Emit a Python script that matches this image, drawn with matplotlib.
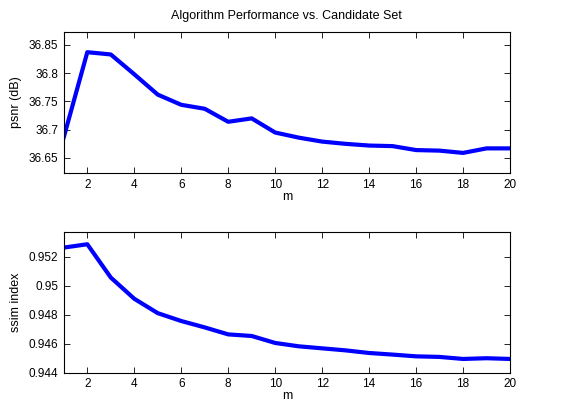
import matplotlib
matplotlib.use("Agg")
import matplotlib.pyplot as plt

# candidate set size
m = list(range(1, 21))

psnr = [36.687, 36.837, 36.833, 36.798, 36.762, 36.744, 36.737, 36.714, 36.720, 36.695,
        36.686, 36.679, 36.675, 36.672, 36.671, 36.664, 36.663, 36.659, 36.667, 36.667]

ssim = [0.95262, 0.95285, 0.95056, 0.94910, 0.94811, 0.94757, 0.94713, 0.94665, 0.94654, 0.94606,
        0.94583, 0.94569, 0.94555, 0.94537, 0.94526, 0.94514, 0.94510, 0.94496, 0.94501, 0.94496]

psnr_ticks = [36.65, 36.7, 36.75, 36.8, 36.85]
psnr_ticklabels = ["36.65", "36.7", "36.75", "36.8", "36.85"]
ssim_ticks = [0.944, 0.946, 0.948, 0.95, 0.952]
ssim_ticklabels = ["0.944", "0.946", "0.948", "0.95", "0.952"]
m_ticks = list(range(2, 21, 2))

plt.rcParams["font.family"] = ["Liberation Sans", "DejaVu Sans"]
plt.rcParams["font.size"] = 9

fig = plt.figure(figsize=(5.75, 4.08), dpi=100)
ax1 = fig.add_axes([0.111, 0.576, 0.776, 0.346])
ax2 = fig.add_axes([0.111, 0.086, 0.776, 0.346])

def style(ax):
    ax.tick_params(direction="in", top=True, right=True, length=4, width=0.6, labelsize=8.5, pad=4)
    for s in ax.spines.values():
        s.set_linewidth(0.8)
    ax.set_xlim(1, 20)
    ax.set_xticks(m_ticks)
    ax.set_xlabel("m", labelpad=0)

ax1.plot(m, psnr, color=(0, 0, 1), linewidth=3)
style(ax1)
ax1.set_ylim(36.6235, 36.873)
ax1.set_yticks(psnr_ticks)
ax1.set_yticklabels(psnr_ticklabels)
ax1.set_ylabel("psnr (dB)", labelpad=5)
ax1.set_title("Algorithm Performance vs. Candidate Set", fontsize=9, pad=9)

ax2.plot(m, ssim, color=(0, 0, 1), linewidth=3)
style(ax2)
ax2.set_ylim(0.944, 0.95371)
ax2.set_yticks(ssim_ticks)
ax2.set_yticklabels(ssim_ticklabels)
ax2.set_ylabel("ssim index", labelpad=5)

fig.savefig("out.png", dpi=100)
